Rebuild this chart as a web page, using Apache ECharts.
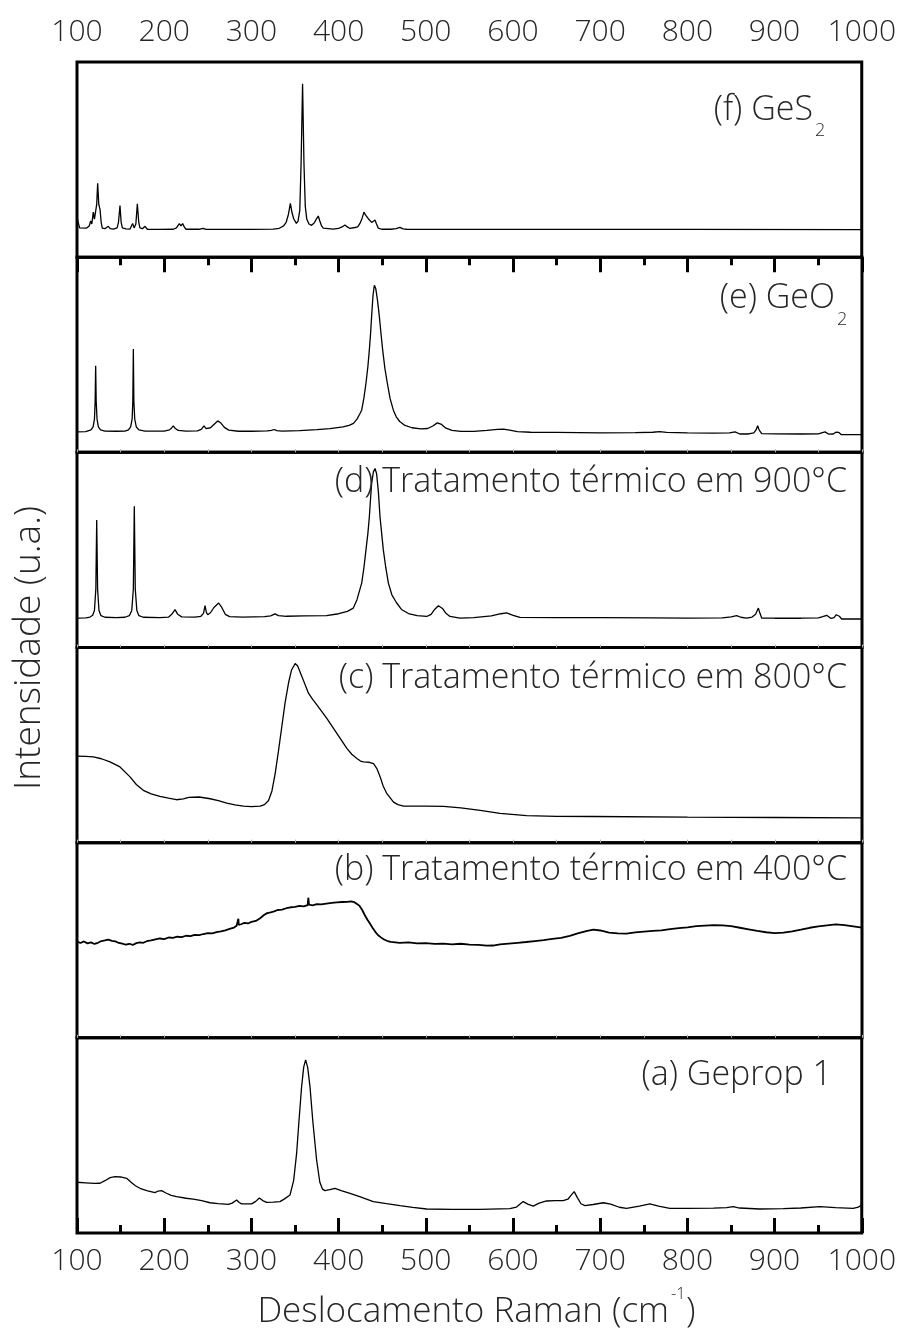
<!DOCTYPE html>
<html>
<head>
<meta charset="utf-8">
<script src="https://cdn.jsdelivr.net/npm/echarts@6/dist/echarts.min.js"></script>
<style>
  html, body { margin: 0; padding: 0; background: #fff; }
  #chart { width: 899px; height: 1331px; }
</style>
</head>
<body>
<div id="chart"></div>
<script>
// Raman spectra, stacked panels (top to bottom: f, e, d, c, b, a).
// Each spectrum: [wavenumber (cm-1), relative intensity within its panel (0-100)].

const specF = [
  [100,20.2],[101.5,20.2],[103,15],[104.2,14.6],[111,14.9],[114,16],[115.7,18.5],[117,17],[118.7,23.1],[120,19.5],
  [121.4,19.7],[122.6,27],[123.7,37.8],[125,27],[126.4,24.5],[127.7,18],[129,14.9],[132,14.6],[135.9,15.8],[138,14.6],
  [141.6,14.4],[146,15],[147.6,18],[149.3,26.5],[150.6,18],[152,15],[156,14.5],[160.8,14.4],[163.8,17.3],[165.5,15],
  [167.5,17],[169.2,27.4],[170.8,18],[172.2,15],[175,14.6],[178,15.8],[180.7,14.3],[195,14.2],[210.5,14.3],[214,15],
  [217.4,17.2],[219.3,16],[221.2,17.2],[223,15.5],[225,14.3],[240,14.3],[244.6,14.8],[248,14.2],[300,14.2],[325,14.4],
  [332,14.8],[337,16],[340,18],[342.5,22],[344.7,27.6],[346.5,23],[348.5,19.7],[351.6,17.3],[353.5,18.5],[355.5,24],
  [357,48],[358.7,88.8],[360.3,48],[361.8,26],[363.5,19.5],[366,17],[369,16.3],[372,17.5],[374.5,19.5],[376.7,21.1],
  [378.5,18.5],[380.5,16],[382.4,14.9],[393.9,14.4],[400,14.8],[404,15.5],[407.3,16.5],[410,15.5],[413,14.7],[418.8,15.2],
  [422,15.5],[424.5,17.3],[427,20],[429.1,23.1],[431,21.5],[434.1,19.7],[437.9,17.8],[441.7,19],[443.5,17],[445.5,14.9],
  [449.3,14.3],[460,14.3],[466,14.6],[470.3,15.3],[474,14.5],[478,14.3],[600,14.2],[800,14.2],[1000,14.1]
];

const specE = [
  [100,10.5],[110,10.6],[116,11.5],[118.5,13],[120,17],[120.8,26],[121.4,44.3],[122,26],[123,17],[124.5,13],
  [127,11.5],[132,10.9],[145,10.8],[155,10.9],[159,11.5],[161.5,13],[163.2,17],[164,26],[164.6,52.9],[165.2,26],
  [166.2,17],[168,13],[171,11.5],[178,10.9],[200,10.9],[206,11.5],[208.5,12.5],[210.4,13.6],[212.5,12.3],[216,11.2],
  [225,10.9],[238,11],[242.5,11.8],[245.6,13.6],[248,12.2],[250,11.8],[253,12.6],[257,14.3],[261.3,16.1],[265,15],
  [269,12.8],[274,11.4],[285,10.8],[300,10.8],[318,11],[323,11.3],[326,11.7],[329,11.1],[335,10.9],[355,11.1],
  [375,11.6],[390,12.2],[405,13],[412,13.8],[417,14.8],[421,17],[424,19.5],[426.4,21.6],[429,28],[431.3,35.4],
  [433.5,44],[435.2,52.6],[436.6,61],[437.8,69.8],[439.3,80],[440.9,85.6],[442.5,84],[444.5,78],[446.6,69.8],[448.5,61],
  [450.4,52.6],[453,43],[455.8,35.4],[459,27.5],[462.7,21.6],[466,18.2],[470,15.8],[476,13.8],[484,12.6],[494,12],
  [502,12.2],[508,13.5],[513,15.1],[518,14.3],[523,12.4],[530,11.3],[540,10.7],[555,10.7],[570,11.2],[582,11.8],
  [589,11.9],[596,11.4],[605,10.6],[620,10.3],[650,10.2],[700,10],[740,10.1],[760,10.3],[768,10.6],[776,10.2],
  [800,10],[830,9.8],[848,10],[854.4,10.5],[860,9.4],[870,9.4],[876,10],[878.5,11.5],[880.4,13.6],[882,11.5],
  [885,9.6],[900,9.5],[930,9.4],[950,9.5],[957.6,10.5],[962,9.3],[967,9.4],[970,10.3],[971.7,11.3],[973.5,10.2],
  [976,9.1],[1000,9.1]
];

const specD = [
  [100,15.1],[110,15.2],[115,15.6],[118,16.5],[120,19],[121.6,30],[122.6,65.3],[123.6,30],[125.2,19],[127.5,16.3],
  [132,15.5],[145,15.3],[155,15.5],[160,16.3],[162.8,19],[164.6,30],[165.7,72.4],[166.8,30],[168.6,19],[171,16.3],
  [176,15.5],[195,15.3],[205,15.6],[209,17.2],[212.4,19.4],[215.5,17],[220,15.7],[235,15.6],[242,16],[245,17.5],
  [246.8,21.4],[248.3,18],[249.9,16.8],[253,17.8],[257,20.5],[262.4,22.8],[266,20.5],[270,17],[275,15.8],[290,15.6],
  [315,15.8],[322,16.2],[327,17.2],[331,16.3],[340,16],[360,16.2],[386,16.3],[400,17.3],[410,18.5],[416.8,20.2],
  [421,24.5],[426.4,33],[429,41],[431.3,50],[433.5,58.5],[435.2,67],[436.5,76],[437.8,84],[439.8,90],[441.7,91.7],
  [443.5,89],[445.5,80],[447.4,67],[449.3,58.5],[451.2,50],[454,41],[457,33],[461,27],[466.5,22.8],[472,19.5],
  [480,17.4],[490,16.3],[500.9,15.9],[506,17],[510,19.5],[514.3,21.4],[519,20],[523,17.5],[527.6,15.9],[539,15.1],
  [555,15.3],[575,16.2],[586,17.3],[592.6,17.7],[600,16.5],[607.9,15.4],[650,15.3],[700,15.3],[760,15.2],[800,15.1],
  [840,15.2],[850,15.7],[856.3,16.3],[861,15.5],[867.8,15.1],[874,15.6],[878,17],[881.2,20.2],[883,17.5],[885,15.1],
  [900,15],[930,15],[950,15.2],[955,15.8],[959.5,16.5],[964.5,14.9],[968,15.3],[970.5,16.8],[972.2,17.7],[974,16],
  [976.7,14.6],[1000,14.6]
];

const specC = [
  [100,44.3],[110,44.2],[118.7,44],[128,43],[137.8,41.4],[149.3,38.8],[160.8,33.7],[168,29.8],[176,26.8],[185,25],
  [195,23.7],[205,22.8],[214,22],[222,22.4],[228,23.2],[229,24],[230,23.3],[240,23.4],[252.7,22.5],[262,21.6],
  [271.8,20.3],[273,21],[274,20.2],[281,19.4],[290.9,18.7],[300,18.5],[310,18.7],[315,19.5],[319.6,21.6],[323.5,26.5],
  [327.2,35.4],[331,47],[334.8,59.4],[338.5,71.5],[342.5,81.8],[346,88.5],[350.1,91.8],[353,90.5],[357.8,85.2],[361,81.5],
  [365.4,76.6],[370,73.5],[375,70.6],[386.4,63.7],[397.9,56],[409.4,48.3],[415,45.3],[420.9,43.1],[425,41.8],[428.5,41.4],
  [435,41.2],[440,40.5],[444,37.8],[447.6,33.7],[451,29],[455.3,25.1],[462.9,20.8],[468,19.5],[474.4,18.7],[500,18.7],
  [520.3,18.6],[540,17.8],[562.3,16.5],[585,15],[615.6,13.9],[650,13.5],[692,13.4],[800,13.1],[900,12.9],[1000,12.7]
];

const specB = [
  [100,49.3],[104,48.6],[108,49.4],[112,48.4],[116,48.9],[120,48.1],[124,48.7],[128,49.6],[132,49.9],[136,50.3],
  [140,49.7],[144,49.4],[148,48.6],[152,48.3],[156,47.7],[160,48.2],[164,47.6],[168,48.5],[172,48.9],[176,48.7],
  [180,49.5],[185,49.9],[190,50.4],[195,50.9],[200,50.6],[205,51.4],[210,51.2],[215,51.8],[220,51.6],[225,52.3],
  [230,52.1],[235,52.8],[240,52.6],[245,53.2],[250,53.7],[255,53.5],[260,54.2],[265,54.6],[270,55.1],[275,55.8],
  [280,56.5],[283,57.4],[284.5,57.6],[285,61],[285.5,57.8],[288,58.2],[292,58.9],[296,58.6],[300,59.4],[305,59.9],
  [310,61.3],[314,62.8],[318,63.9],[322,64.3],[326,64.8],[330,65.5],[335,65.7],[340,66.4],[345,66.9],[350,67.1],
  [355,67.6],[360,67.4],[364.5,68],[365.2,71.8],[366,68.3],[370,67.9],[375,68.5],[380,68.4],[386,68.8],[392,69.2],
  [398,69.4],[404,69.6],[410,69.7],[414,69.9],[418,69.5],[421,68.6],[424,67.6],[427,65.5],[430,62.8],[433,60.5],
  [436,58.4],[439,56.3],[442,54.3],[445,52.7],[448,51.6],[452,50.4],[456,49.6],[460,49.2],[470,48.7],[480,48.9],
  [490,48.4],[500,48.5],[510,48.1],[520,48.3],[530,47.9],[540,48.2],[550,47.8],[560,47.6],[570,47.2],[577,47.3],
  [585,47.9],[595,48.3],[605,48.7],[615,49.1],[625,49.6],[635,50.1],[645,50.7],[655,51.2],[665,52.3],[675,53.6],
  [685,54.8],[692,55.4],[700,55],[710,53.9],[720,53.5],[730,53.4],[740,54],[750,54.4],[760,54.8],[770,55.1],
  [780,55.7],[790,56.2],[800,56.6],[810,57.2],[820,57.5],[830,57.8],[840,57.6],[850,57.2],[860,56.4],[870,55.6],
  [880,54.8],[890,54.1],[900,53.7],[910,53.9],[920,54.5],[930,55.4],[940,56.4],[950,57.1],[960,57.6],[970,58.1],
  [980,57.7],[990,57.1],[1000,56.5]
];

const specA = [
  [100,26],[110,25.7],[120,25.4],[126.4,25.5],[132,26.8],[138,28.4],[143.6,28.9],[150,28.7],[156.9,28],[162,26],
  [167,24.2],[172.2,22.9],[180,21.7],[189.4,20.7],[193,21.5],[197,21.7],[202,20.5],[208,19.3],[214.3,18.6],[225,17.8],
  [233.4,17.4],[243,16.6],[252.5,15.5],[262,15],[273.5,14.7],[278,15.3],[283.1,16.9],[286,15.6],[288.8,14.9],[300.3,14.9],
  [305,16.2],[309.1,17.9],[313,16.6],[317.5,15.7],[325,15.8],[332.8,16.1],[338,17.5],[344.3,19.5],[348.5,27],[351.9,40.9],
  [354.5,57],[357.6,75],[360,85],[362.2,88.7],[364.5,85],[367.2,75],[370.5,57],[374.8,37.4],[378.5,26],[381.5,22.5],
  [384.4,21.7],[390,22.2],[395.9,22.9],[403,21.7],[413.1,20.3],[425,18.5],[439.8,16.1],[455,15],[470.4,14],[485,13.1],
  [501,12.3],[530,12.1],[562.1,12.1],[596.4,12.5],[604,13.3],[611.7,16.1],[617,14.8],[623.2,13.8],[630,15.3],[638.5,16.4],
  [648,16.6],[657.6,16.6],[663,17.3],[667,19.5],[670.2,21.2],[674,18],[678,15],[682.5,14],[692,14.6],[703.5,15.5],
  [712,14.8],[722,13.2],[730.2,12.6],[745,13.8],[757,14.9],[767,13.8],[779.9,12.6],[800,12.6],[830,12.7],[845,13],
  [852.5,13.5],[860,12.8],[883.1,12.3],[910,12.5],[930,12.8],[951.9,13.5],[970,13],[990.1,12.6],[996,13.2],[1000,14.4]
];

// Panel order from top to bottom
const panelSpectra = [specF, specE, specD, specC, specB, specA];
const xMin = 100, xMax = 1000, xStep = 100;

const xTitle = 'Deslocamento Raman (cm';
const xTitleSup = '-1';
const yTitle = 'Intensidade (u.a.)';

const FONT = '"Open Sans", "Noto Sans", sans-serif';
const TEXT = '#262626';

const plotLeft = 77, plotRight = 862, plotTop = 62, plotBottom = 1233;
const panelH = (plotBottom - plotTop) / panelSpectra.length;

const grids = [], xAxes = [], yAxes = [], series = [];
panelSpectra.forEach((spec, i) => {
  const isTop = i === 0, isBottom = i === panelSpectra.length - 1;
  grids.push({
    left: plotLeft, width: plotRight - plotLeft,
    top: plotTop + i * panelH, height: panelH,
    show: true, borderColor: '#000', borderWidth: 3, backgroundColor: 'transparent'
  });
  const outer = isTop || isBottom;
  xAxes.push({
    type: 'value', gridIndex: i, min: xMin, max: xMax, interval: xStep,
    position: isTop ? 'top' : 'bottom',
    axisLine: { show: false },
    splitLine: { show: false },
    axisTick: outer
      ? { show: true, inside: true, length: 15, lineStyle: { color: '#000', width: 3 } }
      : { show: true, inside: true, length: 3, lineStyle: { color: '#b0b0b0', width: 1 } },
    minorTick: outer
      ? { show: true, splitNumber: 2, length: 8, lineStyle: { color: '#000', width: 3 } }
      : { show: true, splitNumber: 2, length: 3, lineStyle: { color: '#b0b0b0', width: 1 } },
    axisLabel: outer
      ? { show: true, fontSize: 30, fontFamily: FONT, fontWeight: 300, color: TEXT,
          margin: isTop ? 15 : 13, formatter: (v) => String(v) }
      : { show: false }
  });
  yAxes.push({
    type: 'value', gridIndex: i, min: 0, max: 100, show: false
  });
  series.push({
    type: 'line', xAxisIndex: i, yAxisIndex: i, data: spec,
    showSymbol: false, symbol: 'none', smooth: false, animation: false,
    lineStyle: { color: '#000', width: i === 4 ? 1.8 : 1.3 },
    z: 3
  });
});

const labelFont = `300 34px ${FONT}`;
const subFont = `300 18px ${FONT}`;
function txt(text, x, y, font, align, extra) {
  return Object.assign({
    type: 'text', x, y, z: 10,
    style: { text, font, fill: TEXT, textAlign: align, textVerticalAlign: 'middle' }
  }, extra || {});
}

const graphics = [
  txt('(f) GeS', 813, 110, labelFont, 'right'),
  txt('2', 815, 131, subFont, 'left'),
  txt('(e) GeO', 835, 298, labelFont, 'right'),
  txt('2', 837, 320, subFont, 'left'),
  txt('(d) Tratamento térmico em 900°C', 847, 482, labelFont, 'right'),
  txt('(c) Tratamento térmico em 800°C', 847, 678, labelFont, 'right'),
  txt('(b) Tratamento térmico em 400°C', 847, 870, labelFont, 'right'),
  txt('(a) Geprop 1', 832, 1075, labelFont, 'right'),
  txt(xTitle, 669, 1312, `300 35px ${FONT}`, 'right'),
  txt(xTitleSup, 671, 1294, `300 16px ${FONT}`, 'left'),
  txt(')', 686, 1312, `300 35px ${FONT}`, 'left'),
  txt(yTitle, 29, 648, `300 37px ${FONT}`, 'center', { rotation: Math.PI / 2 })
];

const chart = echarts.init(document.getElementById('chart'), null, { renderer: 'canvas' });
chart.setOption({
  animation: false,
  backgroundColor: '#fff',
  grid: grids,
  xAxis: xAxes,
  yAxis: yAxes,
  series: series,
  graphic: graphics
});
</script>
</body>
</html>
